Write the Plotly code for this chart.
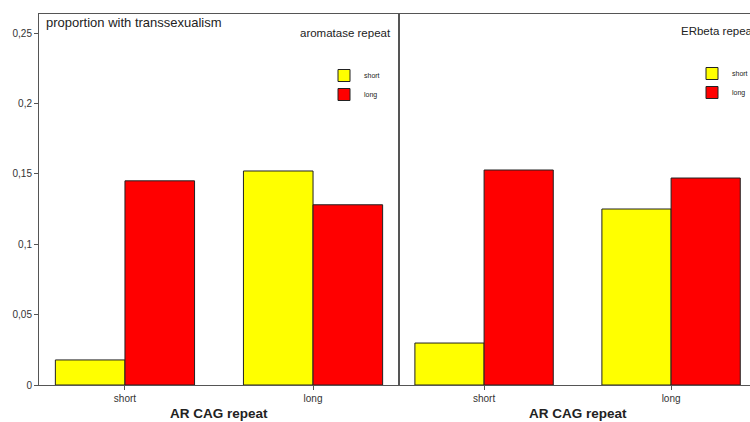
import plotly.graph_objects as go

categories = ["short", "long"]
aromatase_short = [0.0178, 0.152]
aromatase_long = [0.145, 0.128]
erbeta_short = [0.0298, 0.125]
erbeta_long = [0.1527, 0.147]
ytick_vals = [0, 0.05, 0.1, 0.15, 0.2, 0.25]
ytick_text = ["0", "0,05", "0,1", "0,15", "0,2", "0,25"]

W, H = 750, 422
ML, MR, MT, MB = 39, 0, 14, 37
PW = W - ML - MR
PH = H - MT - MB
split = (399 - ML) / PW

def px_x(p):
    return (p - ML) / PW

def px_y(p):
    return (H - MB - p) / PH

FONT = "Liberation Sans, Arial, sans-serif"
YEL = "#FFFF00"
RED = "#FF0000"
LINE = "#222222"

fig = go.Figure()
fig.add_trace(go.Bar(x=categories, y=aromatase_short, name="short", marker=dict(color=YEL, line=dict(color=LINE, width=1)),
                     xaxis="x", yaxis="y", legend="legend"))
fig.add_trace(go.Bar(x=categories, y=aromatase_long, name="long", marker=dict(color=RED, line=dict(color=LINE, width=1)),
                     xaxis="x", yaxis="y", legend="legend"))
fig.add_trace(go.Bar(x=categories, y=erbeta_short, name="short", marker=dict(color=YEL, line=dict(color=LINE, width=1)),
                     xaxis="x2", yaxis="y2", legend="legend2"))
fig.add_trace(go.Bar(x=categories, y=erbeta_long, name="long", marker=dict(color=RED, line=dict(color=LINE, width=1)),
                     xaxis="x2", yaxis="y2", legend="legend2"))

yr = [0, 0.2635]
axis_common = dict(showgrid=False, zeroline=False, showline=True, linecolor="#555555", linewidth=1, automargin=False)

fig.update_layout(
    width=W, height=H,
    margin=dict(l=ML, r=MR, t=MT, b=MB, autoexpand=False),
    paper_bgcolor="white", plot_bgcolor="white",
    barmode="group", bargap=0.26, bargroupgap=0,
    font=dict(family=FONT, color="#222222"),
    xaxis=dict(domain=[0, split], range=[-0.457, 1.457], anchor="y", mirror=True,
               ticks="outside", ticklen=4, tickcolor="#555555", tickfont=dict(size=10, color="#333333"),
               **axis_common),
    yaxis=dict(domain=[0, 1], range=yr, anchor="x", mirror=True,
               tickvals=ytick_vals, ticktext=ytick_text, ticks="outside", ticklen=4, tickcolor="#555555",
               tickfont=dict(size=10, color="#333333"), **axis_common),
    xaxis2=dict(domain=[split, 1], range=[-0.455, 1.422], anchor="y2", mirror=True,
                ticks="outside", ticklen=4, tickcolor="#555555", tickfont=dict(size=10, color="#333333"),
                **axis_common),
    yaxis2=dict(domain=[0, 1], range=yr, anchor="x2", showticklabels=False, ticks="", **axis_common),
    legend=dict(x=px_x(324), y=px_y(61), xanchor="left", yanchor="top", bgcolor="rgba(0,0,0,0)",
                font=dict(size=7, color="#222222"), itemwidth=30, tracegroupgap=0),
    legend2=dict(x=px_x(692), y=px_y(59), xanchor="left", yanchor="top", bgcolor="rgba(0,0,0,0)",
                 font=dict(size=7, color="#222222"), itemwidth=30, tracegroupgap=0),
    annotations=[
        dict(text="proportion with transsexualism", xref="paper", yref="paper", x=px_x(44), y=px_y(23),
             xanchor="left", yanchor="middle", showarrow=False, font=dict(size=13, color="#222222")),
        dict(text="aromatase repeat", xref="paper", yref="paper", x=px_x(393), y=px_y(33),
             xanchor="right", yanchor="middle", showarrow=False, font=dict(size=11.5, color="#222222")),
        dict(text="ERbeta repeat", xref="paper", yref="paper", x=px_x(679), y=px_y(31),
             xanchor="left", yanchor="middle", showarrow=False, font=dict(size=11.5, color="#222222")),
        dict(text="<b>AR CAG repeat</b>", xref="paper", yref="paper", x=px_x(219), y=px_y(413),
             xanchor="center", yanchor="middle", showarrow=False, font=dict(size=13.5, color="#222222")),
        dict(text="<b>AR CAG repeat</b>", xref="paper", yref="paper", x=px_x(578), y=px_y(413),
             xanchor="center", yanchor="middle", showarrow=False, font=dict(size=13.5, color="#222222")),
    ],
)

fig.write_html("out.html", config={"displayModeBar": False},
               post_script="document.body.style.margin='0px';document.body.style.overflow='hidden';")
